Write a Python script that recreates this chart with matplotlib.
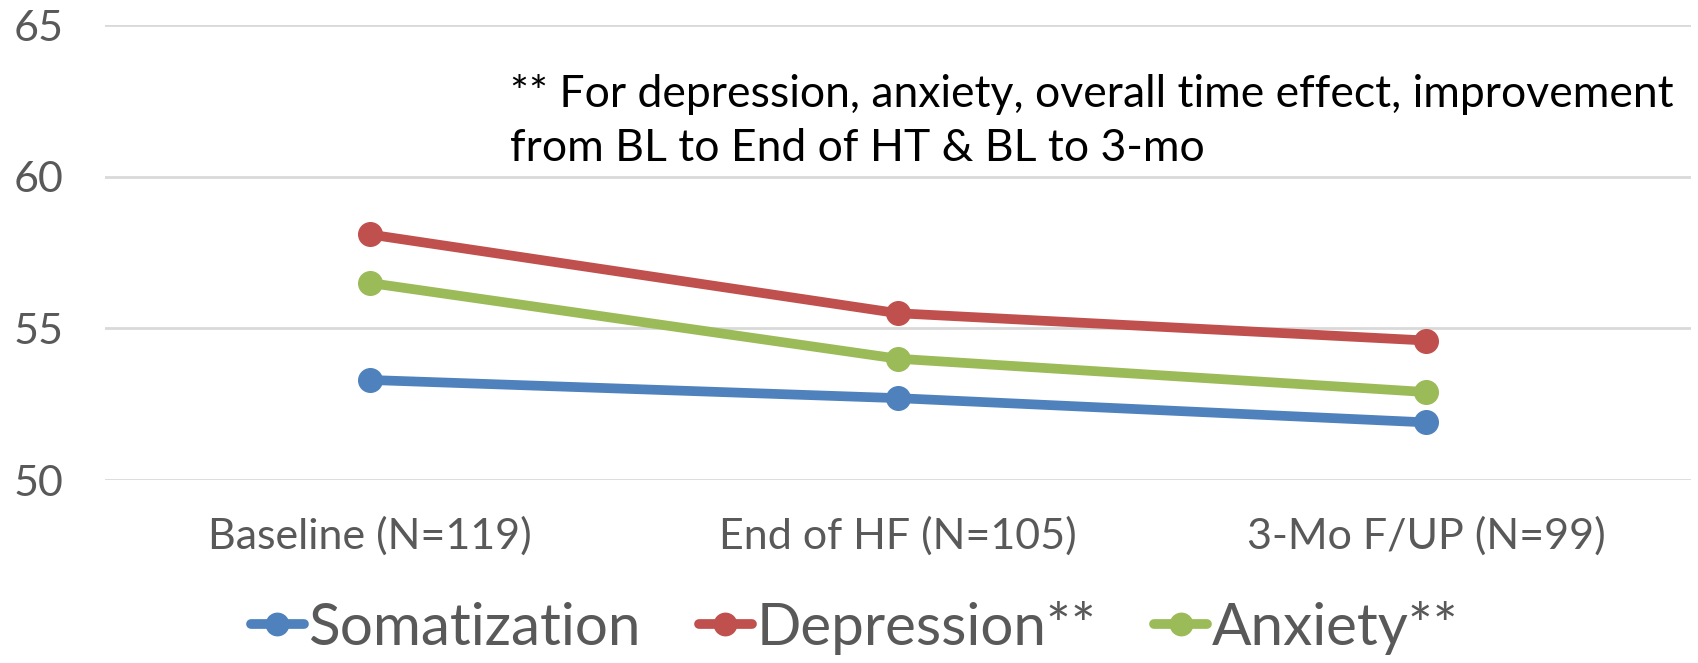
import matplotlib.pyplot as plt
import numpy as np

plt.rcParams['font.family'] = ['Lato', 'DejaVu Sans']

# --- Data ---
timepoints = ['Baseline (N=119)', 'End of HF (N=105)', '3-Mo F/UP (N=99)']
somatization = [53.3, 52.7, 51.9]
depression = [58.1, 55.5, 54.6]
anxiety = [56.5, 54.0, 52.9]
series_names = ['Somatization', 'Depression**', 'Anxiety**']
note = ('** For depression, anxiety, overall time effect, improvement\n'
        'from BL to End of HT & BL to 3-mo')

COLORS = ['#4F81BD', '#C0504D', '#9BBB59']
GRID = '#D9D9D9'
TICK = '#595959'

fig = plt.figure(figsize=(16.99, 6.63), dpi=100)
ax = fig.add_axes([0.062, 0.276, 0.933, 0.686])

x = np.arange(len(timepoints))
for vals, name, c in zip([somatization, depression, anxiety], series_names, COLORS):
    ax.plot(x, vals, color=c, lw=7, marker='o', ms=17, label=name,
            solid_capstyle='round', zorder=3)

ax.set_xlim(-0.5, 2.5)
ax.set_ylim(50, 65)
ax.set_yticks([50, 55, 60, 65])
ax.set_xticks(x)
ax.set_xticklabels(timepoints)
ax.tick_params(axis='x', length=0, pad=26, labelsize=31, labelcolor=TICK)
ax.tick_params(axis='y', length=0, pad=30, labelsize=31, labelcolor=TICK)
ax.grid(axis='y', color=GRID, lw=2)
ax.set_axisbelow(True)
for s in ax.spines.values():
    s.set_visible(False)

ax.text(0.3, 0.817, note, transform=fig.transFigure, fontsize=32,
        color='black', va='center', ha='left', linespacing=1.38)

fig.legend(loc='center', bbox_to_anchor=(0.503, 0.053), ncol=3, frameon=False,
           fontsize=42, handlelength=0.9, handletextpad=0.08, columnspacing=1.0,
           labelcolor=TICK, markerscale=0.95)

fig.savefig('out.png', dpi=100)
